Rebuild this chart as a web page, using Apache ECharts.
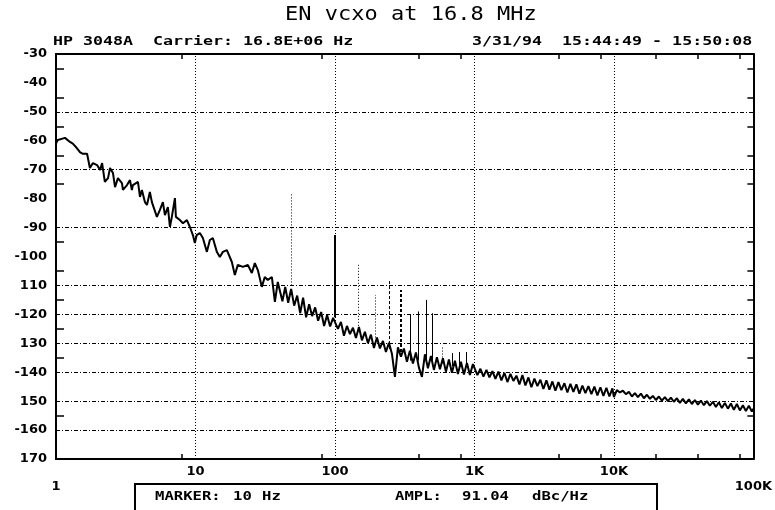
<!DOCTYPE html>
<html>
<head>
<meta charset="utf-8">
<script src="https://cdn.jsdelivr.net/npm/echarts@6/dist/echarts.min.js"></script>
<style>html,body{margin:0;padding:0;background:#fff}#c{width:775px;height:510px}</style>
</head>
<body>
<div id="c"></div>
<script>
// ---- data ----
const titleText = 'EN vcxo at 16.8 MHz';
const headerLeft = 'HP 3048A  Carrier: 16.8E+06 Hz';
const headerRight = '3/31/94  15:44:49 - 15:50:08';
const markerLabel = ['MARKER:', '10', 'Hz'];
const amplLabel = ['AMPL:', '91.04', 'dBc/Hz'];

const xTickValues = [1, 10, 100, 1000, 10000, 100000];
const xTickLabels = ['1', '10', '100', '1K', '10K', '100K'];
const xMinorTicks = [8, 80, 400, 800, 4000, 8000, 20000, 40000, 80000];
const xGridValues = [10, 100, 1000, 10000];

const yTickValues = [-170, -160, -150, -140, -130, -120, -110, -100, -90, -80, -70, -60, -50, -40, -30];
const yTickLabels = ['170', '-160', '150', '-140', '130', '-120', '110', '-100', '-90', '-80', '-70', '-60', '-50', '-40', '-30'];
const yMinorTicks = [-35, -45, -55, -65, -75, -95, -105, -115, -125, -135, -155];
const yGridValues = [-50, -70, -90, -110, -120, -130, -140, -150, -160];

// phase-noise trace: [frequency offset (Hz), level (dBc/Hz)]
const traceLow = [
  [1.00, -61], [1.03, -59.7], [1.16, -59], [1.26, -60.4], [1.32, -61], [1.41, -62.5], [1.49, -64], [1.56, -64.5],
  [1.67, -64.5], [1.75, -69.4], [1.84, -67.7], [1.97, -68.4], [2.07, -70.1], [2.14, -67.7], [2.24, -74.2], [2.36, -72.9],
  [2.44, -69.4], [2.56, -71.1], [2.65, -76], [2.78, -72.9], [2.97, -74.6], [3.02, -77], [3.23, -75.3], [3.39, -73.6],
  [3.50, -77], [3.56, -75.3], [3.87, -74.2], [4.00, -79.4], [4.13, -77], [4.34, -81.2], [4.49, -82.2], [4.71, -77.7],
  [4.87, -81.2], [5.29, -86.3], [5.56, -83.9], [5.84, -81.2], [6.04, -85.7], [6.34, -82.9], [6.56, -89.8], [6.77, -86.3],
  [7.12, -79.8], [7.24, -86.3], [7.73, -87.4], [8.13, -88.5], [8.68, -87.4], [9.12, -89.8], [9.58, -92.6], [9.90, -95.3],
  [10.2, -92.6], [10.75, -91.9], [11.3, -93.6], [12.07, -98.4], [12.68, -94.3], [13.32, -93.6], [14.23, -98.4], [14.95, -100.2],
  [15.72, -98.4], [16.79, -97.8], [18.23, -101.9], [19.15, -106.4], [20.12, -102.9], [21.85, -103.6], [23.74, -102.9], [25.35, -105.7],
  [26.64, -102.3], [27.99, -104.7], [29.9, -110.5], [31.4, -107.1], [33.0, -108.1], [35.3, -107.1], [37.1, -115.7], [38.9, -108.8]
];
const traceMid = [
  [40, -109], [42, -115.5], [44, -110.5], [46.2, -116], [48.5, -111.2], [51, -117], [53.6, -113.5], [56.3, -119.6],
  [59.1, -114.2], [62.1, -121], [65.3, -116.5], [68.6, -120.6], [72.1, -117.6], [75.7, -122.2], [79.6, -119.2], [83.6, -124],
  [87.8, -120.2], [92.3, -124.2], [97, -121.2],
  [100, -120.8], [105, -125.0], [110.4, -122.6], [116, -127.4], [121.9, -124.0], [128.1, -126.8], [134.6, -124.6], [141.4, -128.2],
  [148.6, -124.4], [156.1, -129.0], [164, -126.0], [172.4, -130.0], [181.1, -127.0], [190.3, -131.6], [200, -128.0], [210.1, -131.8],
  [220.8, -129.2], [232, -133.0], [243.8, -129.8], [256.1, -133.6], [269.1, -141.6], [282.8, -131.4], [297.1, -134.6], [312.2, -131.8],
  [328.1, -136.4], [344.7, -132.6], [362.2, -137.0], [380.6, -133.2], [400, -138.4], [420.3, -141.6], [441.6, -133.8], [464, -138.6],
  [487.6, -134.4], [512.3, -139.2], [538.3, -134.8], [565.7, -139.0], [594.3, -135.2], [624.5, -139.8], [656.2, -135.6], [689.5, -140.2],
  [724.5, -136.0], [761.3, -140.6], [800, -136.4], [840.6, -140.8], [883.3, -136.8], [928.1, -141.0], [975.2, -137.2]
];
const traceHigh = [
  [1000, -137.5], [1050, -141.0], [1104, -138.8], [1160, -141.5], [1219, -139.2], [1281, -141.8], [1346, -139.6], [1414, -142.3],
  [1486, -139.8], [1561, -142.8], [1640, -140.2], [1724, -143.4], [1811, -140.6], [1903, -143.0], [2000, -141.2], [2101, -144.2],
  [2208, -141.0], [2320, -144.6], [2438, -141.8], [2561, -145.2], [2691, -142.2], [2828, -144.8], [2971, -142.6], [3122, -145.8],
  [3281, -142.8], [3447, -146.0], [3622, -143.2], [3806, -146.4], [4000, -143.4], [4203, -146.2], [4416, -143.8], [4640, -147.0],
  [4876, -144.0], [5123, -146.8], [5383, -144.2], [5657, -147.4], [5943, -144.6], [6245, -147.2], [6562, -144.8], [6895, -147.6],
  [7245, -145.0], [7613, -148.0], [8000, -145.2], [8406, -148.2], [8833, -145.4], [9281, -148.4], [9752, -145.6],
  [10000, -148.6], [10500, -146.2], [11040, -147.0], [11600, -146.4], [12190, -147.6], [12810, -146.8], [13460, -148.4], [14140, -147.2],
  [14860, -148.6], [15610, -147.4], [16400, -149.0], [17240, -147.8], [18110, -149.2], [19030, -148.2], [20000, -149.6], [21010, -148.4],
  [22080, -149.8], [23200, -148.6], [24380, -150.0], [25610, -148.8], [26910, -150.2], [28280, -149.0], [29710, -150.6], [31220, -149.2],
  [32810, -150.8], [34470, -149.4], [36220, -151.0], [38060, -149.6], [40000, -151.2], [42030, -149.8], [44160, -151.4], [46400, -150.0],
  [48760, -151.6], [51230, -150.2], [53830, -152.0], [56570, -150.4], [59430, -152.4], [62450, -150.6], [65620, -152.6], [68950, -150.8],
  [72450, -153.0], [76130, -151.0], [80000, -153.2], [84060, -151.4], [88330, -153.4], [92810, -151.6], [97520, -153.6], [100000, -152.6]
];

// discrete spurs: frequency, floor level, peak level
const spurFreq = [49, 100, 146, 196, 247, 298, 346, 393, 452, 496, 592, 693, 783, 880];
const spurBase = [-110, -121, -125, -128, -132, -133, -136, -136, -136, -136, -137, -138, -138, -138];
const spurPeak = [-78.2, -92.6, -102.3, -113.3, -108.1, -111.6, -120.2, -119, -115, -119.6, -131, -133.4, -133, -133];

// ---- presentation ----
const spurDash = ['dot', 'solid', 'dot', 'dot', 'dash', 'dash', 'solid', 'solid', 'solid', 'solid', 'dot', 'solid', 'solid', 'solid'];
const spurThick = [1, 2, 1, 1, 1, 2, 1, 1, 1, 1, 1, 1, 1, 1];
const dashMap = { dot: [1, 2], dash: [3, 2], solid: 'solid' };

const labelFont = { color: '#000', fontFamily: 'DejaVu Sans', fontWeight: 'bold', fontSize: 13 };
const monoFont = 'bold 12px "DejaVu Sans Mono"';

const chart = echarts.init(document.getElementById('c'), null, { renderer: 'canvas' });

const xLabelFmt = v => {
  const i = xTickValues.findIndex(t => Math.abs(Math.log10(t) - Math.log10(v)) < 1e-6);
  if (i < 0) return '';
  const s = xTickLabels[i];
  return (i === 0 || i === xTickValues.length - 1) ? '{lo|' + s + '}' : s;
};
const yLabelFmt = v => {
  const i = yTickValues.findIndex(t => Math.abs(t - v) < 1e-6);
  return i < 0 ? '' : yTickLabels[i];
};

const axisLineStyle = { color: '#000', width: 2 };
const tickStyle = { color: '#000', width: 1.5 };

const option = {
  animation: false,
  backgroundColor: '#fff',
  grid: { left: 56, right: 21, top: 54, bottom: 51, containLabel: false },
  xAxis: [
    {
      type: 'log', logBase: 10, min: 1, max: 100000, position: 'bottom',
      axisLine: { show: true, onZero: false, lineStyle: axisLineStyle },
      axisTick: { show: true, inside: true, length: 5, customValues: xMinorTicks, lineStyle: tickStyle },
      axisLabel: Object.assign({
        customValues: xTickValues, formatter: xLabelFmt, margin: 6, showMinLabel: true, showMaxLabel: true, hideOverlap: false,
        rich: { lo: Object.assign({ padding: [15, 0, 0, 0] }, labelFont) }
      }, labelFont),
      splitLine: { show: false }, minorTick: { show: false }
    },
    {
      type: 'log', logBase: 10, min: 1, max: 100000, position: 'top',
      axisLine: { show: true, onZero: false, lineStyle: axisLineStyle },
      axisTick: { show: true, inside: true, length: 5, customValues: xMinorTicks, lineStyle: tickStyle },
      axisLabel: { show: false }, splitLine: { show: false }
    }
  ],
  yAxis: [
    {
      type: 'value', min: -170, max: -30, interval: 10, position: 'left',
      axisLine: { show: true, onZero: false, lineStyle: axisLineStyle },
      axisTick: { show: true, inside: true, length: 8, customValues: yMinorTicks, lineStyle: tickStyle },
      axisLabel: Object.assign({ formatter: yLabelFmt, margin: 9, showMinLabel: true, showMaxLabel: true }, labelFont),
      splitLine: { show: false }
    },
    {
      type: 'value', min: -170, max: -30, interval: 10, position: 'right',
      axisLine: { show: true, onZero: false, lineStyle: axisLineStyle },
      axisTick: { show: true, inside: true, length: 6, customValues: yMinorTicks, lineStyle: tickStyle },
      axisLabel: { show: false }, splitLine: { show: false }
    }
  ],
  series: [
    {
      name: 'grid', type: 'line', z: 1, silent: true, data: [],
      markLine: {
        silent: true, symbol: 'none', z: 1, animation: false, label: { show: false },
        data: [
          ...xGridValues.map(v => ({ xAxis: v, lineStyle: { color: '#000', width: 1, type: [1, 2] } })),
          ...yGridValues.map(v => ({ yAxis: v, lineStyle: { color: '#000', width: 1, type: [4, 2, 1, 2] } }))
        ]
      }
    },
    {
      name: 'trace', type: 'line', z: 3, silent: true, showSymbol: false, symbol: 'none',
      data: traceLow.concat(traceMid, traceHigh),
      lineStyle: { color: '#000', width: 2 }
    },
    {
      name: 'spurs', type: 'line', z: 4, silent: true, data: [],
      markLine: {
        silent: true, symbol: 'none', z: 4, animation: false, label: { show: false },
        data: spurFreq.map((f, i) => [
          { coord: [f, spurBase[i]], lineStyle: { color: '#000', width: spurThick[i], type: dashMap[spurDash[i]] } },
          { coord: [f, spurPeak[i]] }
        ])
      }
    }
  ],
  graphic: [
    { type: 'text', x: 285, y: 15, scaleX: 1.1, style: { text: titleText, font: '20px "DejaVu Sans Mono"', fill: '#000', verticalAlign: 'middle' } },
    { type: 'text', x: 53, y: 42, scaleX: 1.385, style: { text: headerLeft, font: monoFont, fill: '#000', verticalAlign: 'middle' } },
    { type: 'text', x: 472, y: 42, scaleX: 1.385, style: { text: headerRight, font: monoFont, fill: '#000', verticalAlign: 'middle' } },
    { type: 'rect', shape: { x: 135, y: 484, width: 522, height: 40 }, style: { fill: 'none', stroke: '#000', lineWidth: 2 } },
    { type: 'text', x: 155, y: 497, scaleX: 1.3, style: { text: markerLabel[0], font: monoFont, fill: '#000', verticalAlign: 'middle' } },
    { type: 'text', x: 233, y: 497, scaleX: 1.3, style: { text: markerLabel[1], font: monoFont, fill: '#000', verticalAlign: 'middle' } },
    { type: 'text', x: 262, y: 497, scaleX: 1.3, style: { text: markerLabel[2], font: monoFont, fill: '#000', verticalAlign: 'middle' } },
    { type: 'text', x: 395, y: 497, scaleX: 1.3, style: { text: amplLabel[0], font: monoFont, fill: '#000', verticalAlign: 'middle' } },
    { type: 'text', x: 462, y: 497, scaleX: 1.3, style: { text: amplLabel[1], font: monoFont, fill: '#000', verticalAlign: 'middle' } },
    { type: 'text', x: 532, y: 497, scaleX: 1.3, style: { text: amplLabel[2], font: monoFont, fill: '#000', verticalAlign: 'middle' } }
  ]
};
chart.setOption(option);
</script>
</body>
</html>
